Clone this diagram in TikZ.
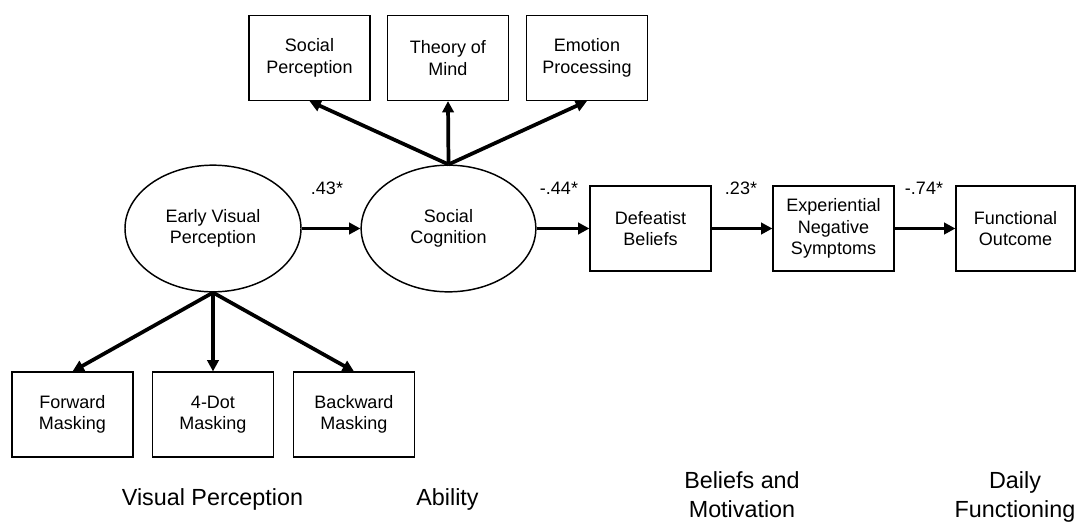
\documentclass[tikz,border=0pt]{standalone}
\usepackage{fontspec}
\setmainfont{Liberation Sans}
\usetikzlibrary{arrows.meta,shapes.geometric}
\begin{document}
\begin{tikzpicture}[x=0.75pt,y=-0.75pt,
  box/.style={draw,line width=1.1pt,minimum width=90.5pt,minimum height=63.5pt,align=center,inner sep=0pt,font=\fontsize{13.5}{16}\selectfont},
  lat/.style={draw,ellipse,line width=1.1pt,minimum width=132pt,minimum height=95pt,inner sep=0pt,align=center,font=\fontsize{13.5}{16}\selectfont},
  arr/.style={line width=2.8pt,-{Triangle[length=8.5pt,width=8.5pt]}},
  coef/.style={font=\fontsize{13.5}{16}\selectfont,inner sep=0pt},
  cat/.style={anchor=base,inner sep=0pt,font=\fontsize{17.5}{21}\selectfont}]
\useasboundingbox (0,0) rectangle (1076,522);
% top indicator boxes
\node[box] (sp) at (309.5,58) {Social\\Perception};
\node[box] (tom) at (448,58) {Theory of\\Mind};
\node[box] (ep) at (587,58) {Emotion\\Processing};
% latent variables
\node[lat] (evp) at (213,228.5) {Early Visual\\Perception};
\node[lat,minimum width=131pt] (sc) at (448.5,228.5) {Social\\Cognition};
% path boxes
\node[box] (db) at (650.5,228.5) {Defeatist\\Beliefs};
\node[box] (ens) at (833.5,228.5) {Experiential\\Negative\\Symptoms};
\node[box,minimum width=89pt] (fo) at (1015.5,228.5) {Functional\\Outcome};
% bottom indicator boxes
\node[box] (fm) at (72.5,414.5) {Forward\\Masking};
\node[box] (dm) at (213,414.5) {4-Dot\\Masking};
\node[box] (bm) at (354,414.5) {Backward\\Masking};
% arrows
\draw[arr] (sc.north) -- (sp.south);
\draw[arr] (sc.north) -- (tom.south);
\draw[arr] (sc.north) -- (ep.south);
\draw[arr] (evp.south) -- (fm.north);
\draw[arr] (evp.south) -- (dm.north);
\draw[arr] (evp.south) -- (bm.north);
\draw[arr] (evp.east) -- (sc.west);
\draw[arr] (sc.east) -- (db.west);
\draw[arr] (db.east) -- (ens.west);
\draw[arr] (ens.east) -- (fo.west);
% coefficients
\node[coef] (c1) at (327,188) {.43*};
\node[coef] (c2) at (559,188) {-.44*};
\node[coef] (c3) at (741,188) {.23*};
\node[coef] (c4) at (924,188) {-.74*};
% categories
\node[cat] (k1) at (212.5,505) {Visual Perception};
\node[cat] (k2) at (447.5,505) {Ability};
\node[cat] (k3a) at (742,488) {Beliefs and};
\node[cat] (k3b) at (742,517) {Motivation};
\node[cat] (k4a) at (1015,488) {Daily};
\node[cat] (k4b) at (1015,517) {Functioning};
\end{tikzpicture}
\end{document}
